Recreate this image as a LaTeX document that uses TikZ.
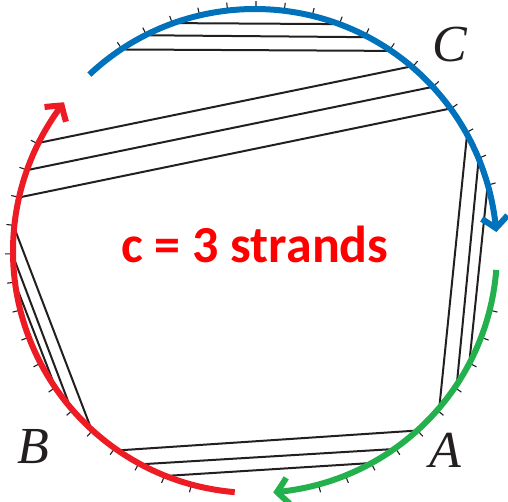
\documentclass[tikz,border=0pt]{standalone}
\usepackage{fontspec}
\setmainfont{Liberation Serif}
\newfontfamily\labelfont{Carlito}
\usetikzlibrary{calc,arrows.meta,bending}
\definecolor{arcblue}{RGB}{0,114,188}
\definecolor{arcred}{RGB}{237,28,36}
\definecolor{arcgreen}{RGB}{34,177,76}
\definecolor{textred}{RGB}{255,0,0}
\definecolor{inkblack}{RGB}{35,31,32}
\tikzset{
  strand/.style={draw=inkblack, line width=2pt},
  tickmark/.style={draw=inkblack, line width=1.1pt},
  colarc/.style={line width=6pt, -{Straight Barb[length=11pt,width=26pt,bend]}},
  letter/.style={font=\itshape\fontsize{52}{52}\selectfont, text=inkblack, anchor=base, inner sep=0pt},
}
\begin{document}
\begin{tikzpicture}[x=1pt,y=1pt]
\useasboundingbox (0,0) rectangle (508,-502);
\coordinate (O) at (255,-251);
% ticks
\foreach \k in {0,...,16}{
  \pgfmathsetmacro{\ang}{15.8+\k*6.725}
  \draw[tickmark] ($(O)+(\ang:243pt)$) -- ($(O)+(\ang:250pt)$);
}
\foreach \k in {0,...,15}{
  \pgfmathsetmacro{\ang}{153.7+\k*6.74}
  \draw[tickmark] ($(O)+(\ang:243pt)$) -- ($(O)+(\ang:250pt)$);
}
\foreach \k in {0,...,9}{
  \pgfmathsetmacro{\ang}{285.2+\k*6.74}
  \draw[tickmark] ($(O)+(\ang:243pt)$) -- ($(O)+(\ang:250pt)$);
}
% strands (chords)
\foreach \a/\b [count=\i] in {
  108.3/71.0, 116.0/63.0, 122.9/56.5,
  153.1/50.1, 160.2/43.0, 167.0/36.3,
  28.1/-39.7, 21.5/-32.6, 14.7/-26.5,
  236.1/311.5, 242.6/304.3, 249.4/297.8,
  175.4/226.5, 182.6/218.9, 189.9/212.4}{
  \coordinate (s\i a) at ($(O)+(\a:240pt)$);
  \coordinate (s\i b) at ($(O)+(\b:240pt)$);
  \draw[strand] (s\i a) -- (s\i b);
}
% coloured arcs
\draw[colarc, arcblue] ($(O)+(133.2:242pt)$) arc[start angle=133.2, end angle=4.5, radius=242pt];
\draw[colarc, arcgreen] ($(O)+(-4.5:242pt)$) arc[start angle=-4.5, end angle=-85.7, radius=242pt];
\draw[colarc, arcred] ($(O)+(265.2:242pt)$) arc[start angle=265.2, end angle=142.1, radius=242pt];
% labels
\node[anchor=base, text=textred, inner sep=0pt, font=\labelfont\bfseries\fontsize{52}{52}\selectfont] (lbl) at (255,-263) {c = 3 strands};
\node[letter] (B) at (33,-463) {B};
\node[letter] (C) at (450,-62) {C};
\node[letter] (A) at (445,-467) {A};
\end{tikzpicture}
\end{document}
